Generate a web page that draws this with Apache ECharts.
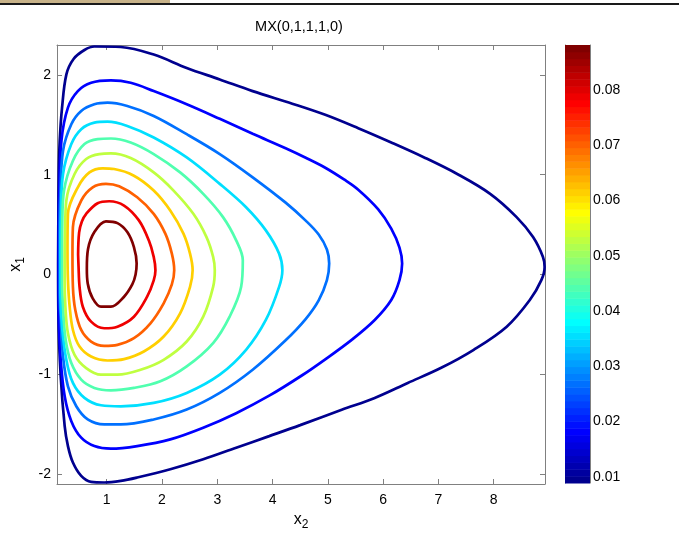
<!DOCTYPE html>
<html><head><meta charset="utf-8">
<script src="https://cdn.jsdelivr.net/npm/echarts@6/dist/echarts.min.js"></script>
<style>html,body{margin:0;padding:0;background:#fff}#c{width:679px;height:543px}</style>
</head><body><div id="c"></div>
<script>
// ---------------- data ----------------
const titleText = 'MX(0,1,1,1,0)';
const xTicks = [1, 2, 3, 4, 5, 6, 7, 8];
const yTicks = [-2, -1, 0, 1, 2];
const cbTicks = [0.01, 0.02, 0.03, 0.04, 0.05, 0.06, 0.07, 0.08];
const levels = [0.0089, 0.0177, 0.0265, 0.0353, 0.0441, 0.0529, 0.0617, 0.0705, 0.0793, 0.0881];

// contour paths: [x2, x1]
const c1 = [[0.12,0.1],[0.125,0.6],[0.132,1.01],[0.149,1.34],[0.191,1.669],[0.27,2.006],[0.4,2.16],[0.597,2.25],[0.776,2.285],[1.254,2.28],[1.85,2.204],[2.447,2.07],[3.045,1.955],[3.64,1.838],[4.357,1.712],[4.954,1.6],[5.551,1.466],[6.148,1.323],[6.744,1.173],[7.342,1.007],[7.938,0.808],[8.416,0.575],[8.714,0.375],[8.893,0.176],[8.923,0.076],[8.864,-0.057],[8.655,-0.256],[8.237,-0.523],[7.64,-0.755],[7.043,-0.938],[6.447,-1.087],[5.849,-1.237],[5.252,-1.355],[4.5,-1.51],[3.94,-1.62],[3.342,-1.736],[2.746,-1.852],[2.15,-1.952],[1.551,-2.035],[1.254,-2.069],[0.955,-2.085],[0.717,-2.079],[0.538,-2.019],[0.388,-1.885],[0.298,-1.72],[0.239,-1.52],[0.167,-1.02],[0.125,-0.4],[0.12,0.1]];
const c2 = [[0.13,0.1],[0.14,0.8],[0.18,1.34],[0.298,1.672],[0.477,1.838],[0.717,1.921],[1.075,1.945],[1.433,1.921],[1.85,1.838],[2.447,1.706],[3.045,1.56],[3.641,1.41],[4.237,1.265],[4.6,1.17],[4.954,1.07],[5.3,0.95],[5.551,0.85],[5.909,0.655],[6.148,0.46],[6.297,0.27],[6.345,0.11],[6.297,-0.057],[6.148,-0.256],[5.849,-0.456],[5.432,-0.655],[4.954,-0.85],[4.536,-1.01],[3.94,-1.215],[3.342,-1.39],[2.746,-1.536],[2.15,-1.653],[1.551,-1.72],[1.075,-1.746],[0.776,-1.72],[0.538,-1.636],[0.359,-1.47],[0.239,-1.221],[0.167,-0.855],[0.135,-0.456],[0.13,0.1]];
const c3 = [[0.147,0.12],[0.147,0.4],[0.16,0.8],[0.209,1.24],[0.359,1.506],[0.538,1.639],[0.776,1.706],[1.014,1.722],[1.372,1.689],[1.85,1.589],[2.447,1.406],[3.045,1.207],[3.641,0.974],[4.237,0.72],[4.6,0.54],[4.835,0.4],[4.984,0.25],[5.025,0.11],[4.984,-0.057],[4.835,-0.26],[4.595,-0.45],[4.237,-0.66],[3.641,-0.955],[3.045,-1.187],[2.447,-1.354],[1.85,-1.453],[1.254,-1.503],[0.955,-1.503],[0.656,-1.453],[0.449,-1.321],[0.298,-1.121],[0.209,-0.822],[0.167,-0.456],[0.147,-0.157],[0.147,0.12]];
const c4 = [[0.162,0.0],[0.162,0.2],[0.17,0.6],[0.209,1.007],[0.359,1.307],[0.538,1.456],[0.776,1.522],[1.014,1.532],[1.372,1.489],[1.85,1.373],[2.447,1.173],[3.045,0.908],[3.521,0.674],[3.879,0.442],[4.119,0.209],[4.178,0.043],[4.119,-0.124],[3.879,-0.456],[3.521,-0.755],[3.045,-1.004],[2.447,-1.187],[1.85,-1.287],[1.254,-1.321],[0.896,-1.311],[0.597,-1.237],[0.388,-1.087],[0.269,-0.855],[0.191,-0.523],[0.162,-0.19],[0.162,0.0]];
const c5 = [[0.191,0.15],[0.195,0.5],[0.227,0.841],[0.388,1.14],[0.597,1.307],[0.835,1.357],[1.075,1.363],[1.433,1.323],[1.85,1.207],[2.328,1.023],[2.746,0.808],[3.104,0.575],[3.342,0.342],[3.462,0.143],[3.432,-0.124],[3.224,-0.423],[2.925,-0.688],[2.447,-0.922],[1.97,-1.071],[1.492,-1.137],[1.075,-1.161],[0.776,-1.137],[0.538,-1.054],[0.359,-0.888],[0.257,-0.655],[0.209,-0.323],[0.191,-0.057],[0.191,0.15]];
const c6 = [[0.239,0.15],[0.245,0.4],[0.269,0.741],[0.418,1.007],[0.628,1.157],[0.866,1.207],[1.075,1.213],[1.433,1.167],[1.85,1.023],[2.209,0.841],[2.567,0.608],[2.805,0.375],[2.925,0.176],[2.955,0.043],[2.925,-0.124],[2.746,-0.423],[2.447,-0.672],[2.03,-0.855],[1.612,-0.955],[1.194,-1.004],[0.896,-1.004],[0.628,-0.938],[0.418,-0.805],[0.298,-0.589],[0.252,-0.323],[0.239,-0.057],[0.239,0.15]];
const c7 = [[0.29,0.25],[0.298,0.608],[0.477,0.874],[0.687,1.023],[0.925,1.064],[1.134,1.057],[1.492,0.99],[1.85,0.841],[2.149,0.641],[2.388,0.409],[2.507,0.209],[2.554,0.043],[2.507,-0.124],[2.328,-0.389],[2.03,-0.622],[1.671,-0.772],[1.313,-0.848],[1.014,-0.862],[0.717,-0.822],[0.508,-0.722],[0.388,-0.556],[0.329,-0.323],[0.298,-0.057],[0.29,0.25]];
const c8 = [[0.38,0.2],[0.388,0.475],[0.538,0.741],[0.746,0.874],[0.986,0.908],[1.224,0.884],[1.551,0.774],[1.85,0.608],[2.06,0.409],[2.178,0.209],[2.221,0.043],[2.178,-0.1],[2.03,-0.289],[1.791,-0.489],[1.492,-0.638],[1.194,-0.705],[0.955,-0.715],[0.717,-0.672],[0.538,-0.556],[0.431,-0.356],[0.388,-0.124],[0.38,0.2]];
const c9 = [[0.482,0.2],[0.5,0.42],[0.55,0.53],[0.628,0.608],[0.835,0.714],[1.045,0.734],[1.313,0.691],[1.582,0.542],[1.761,0.342],[1.85,0.176],[1.881,0.043],[1.85,-0.06],[1.731,-0.223],[1.492,-0.423],[1.194,-0.523],[0.955,-0.539],[0.717,-0.473],[0.567,-0.323],[0.508,-0.124],[0.49,0.076],[0.482,0.2]];
const c10 = [[0.64,0.06],[0.66,0.25],[0.776,0.425],[0.986,0.532],[1.194,0.515],[1.372,0.425],[1.492,0.275],[1.541,0.11],[1.522,0.0],[1.462,-0.1],[1.313,-0.223],[1.075,-0.323],[0.896,-0.323],[0.746,-0.239],[0.656,-0.09],[0.64,0.06]];
const contours = [c1, c2, c3, c4, c5, c6, c7, c8, c9, c10];

// ---------------- styling helpers ----------------
function jet(m) {
  const n = Math.ceil(m / 4);
  const u = [];
  for (let i = 1; i <= n; i++) u.push(i / n);
  for (let i = 1; i < n; i++) u.push(1);
  for (let i = n; i >= 1; i--) u.push(i / n);
  const g0 = Math.ceil(n / 2) - (m % 4 === 1 ? 1 : 0);
  const J = [];
  for (let i = 0; i < m; i++) J.push([0, 0, 0]);
  u.forEach((v, k) => {
    const g = g0 + k + 1, r = g + n, b = g - n;
    if (r >= 1 && r <= m) J[r - 1][0] = v;
    if (g >= 1 && g <= m) J[g - 1][1] = v;
    if (b >= 1 && b <= m) J[b - 1][2] = v;
  });
  return J.map(c => 'rgb(' + c.map(v => Math.round(v * 255)).join(',') + ')');
}
const cmap = jet(64);
const cmin = levels[0], cmax = levels[levels.length - 1];
function levelColor(v) {
  const idx = Math.min(64, Math.floor((v - cmin) / (cmax - cmin) * 64 + 1e-9) + 1);
  return cmap[idx - 1];
}
const bands = cmap.map((c, i) => [i]);

const FONT = 'Liberation Sans, Arial, Helvetica, sans-serif';
const axisGray = '#808080';

const lineSeries = contours.map((pts, i) => ({
  type: 'line',
  xAxisIndex: 0, yAxisIndex: 0,
  data: pts,
  smooth: 0.35,
  showSymbol: false,
  symbol: 'none',
  clip: true,
  lineStyle: { color: levelColor(levels[i]), width: 2.7 },
  z: 3
}));

const chart = echarts.init(document.getElementById('c'), null, { renderer: 'canvas' });
chart.setOption({
  backgroundColor: '#fff',
  animation: false,
  graphic: [
    { type: 'rect', shape: { x: 0, y: 0, width: 170, height: 3 }, style: { fill: '#c8b38a' }, silent: true },
    { type: 'rect', shape: { x: 0, y: 3, width: 679, height: 2 }, style: { fill: '#1a1a1a' }, silent: true }
  ],
  title: {
    text: titleText, left: 299, top: 19, textAlign: 'center', padding: 0,
    textStyle: { fontFamily: FONT, fontSize: 14.5, fontWeight: 'normal', color: '#000' }
  },
  grid: [
    { left: 52, right: 134, top: 45, bottom: 59, show: false },
    { left: 565, width: 25, top: 45, bottom: 60, show: false }
  ],
  xAxis: [
    {
      type: 'value', gridIndex: 0, min: 0.1, max: 8.93, position: 'bottom',
      axisLine: { show: true, onZero: false, lineStyle: { color: axisGray, width: 1 } },
      axisTick: { show: true, inside: true, length: 5, customValues: xTicks, lineStyle: { color: axisGray } },
      axisLabel: { customValues: xTicks, color: '#000', fontSize: 14, fontFamily: FONT, margin: 9 },
      splitLine: { show: false },
      name: '{v|x}{s|2}', nameLocation: 'middle', nameGap: 27,
      nameTextStyle: { rich: {
        v: { fontSize: 16, fontFamily: FONT, color: '#000', verticalAlign: 'top' },
        s: { fontSize: 12, fontFamily: FONT, color: '#000', verticalAlign: 'top', padding: [7, 0, 0, 0] }
      } }
    },
    {
      type: 'value', gridIndex: 0, min: 0.1, max: 8.93, position: 'top',
      axisLine: { show: true, onZero: false, lineStyle: { color: axisGray, width: 1 } },
      axisTick: { show: true, inside: true, length: 5, customValues: xTicks, lineStyle: { color: axisGray } },
      axisLabel: { show: false }, splitLine: { show: false }
    },
    {
      type: 'value', gridIndex: 1, min: 0, max: 1, show: false
    }
  ],
  yAxis: [
    {
      type: 'value', gridIndex: 0, min: -2.1, max: 2.3, position: 'left',
      axisLine: { show: true, onZero: false, lineStyle: { color: axisGray, width: 1 } },
      axisTick: { show: true, inside: true, length: 5, customValues: yTicks, lineStyle: { color: axisGray } },
      axisLabel: { customValues: yTicks, color: '#000', fontSize: 14, fontFamily: FONT, margin: 6 },
      splitLine: { show: false },
      name: '{v|x}{s|1}', nameLocation: 'middle', nameGap: 30, nameRotate: 90,
      nameTextStyle: { rich: {
        v: { fontSize: 16, fontFamily: FONT, color: '#000', verticalAlign: 'top' },
        s: { fontSize: 12, fontFamily: FONT, color: '#000', verticalAlign: 'top', padding: [7, 0, 0, 0] }
      } }
    },
    {
      type: 'value', gridIndex: 0, min: -2.1, max: 2.3, position: 'right',
      axisLine: { show: true, onZero: false, lineStyle: { color: axisGray, width: 1 } },
      axisTick: { show: true, inside: true, length: 5, customValues: yTicks, lineStyle: { color: axisGray } },
      axisLabel: { show: false }, splitLine: { show: false }
    },
    {
      type: 'value', gridIndex: 1, min: cmin, max: cmax, position: 'right',
      axisLine: { show: true, onZero: false, lineStyle: { color: axisGray, width: 1 } },
      axisTick: { show: true, inside: true, length: 4, customValues: cbTicks, lineStyle: { color: '#555' } },
      axisLabel: { customValues: cbTicks, color: '#000', fontSize: 14, fontFamily: FONT, margin: 3,
        formatter: v => v.toFixed(2) },
      splitLine: { show: false }
    },
    {
      type: 'value', gridIndex: 1, min: cmin, max: cmax, position: 'left',
      axisLine: { show: true, onZero: false, lineStyle: { color: axisGray, width: 1 } },
      axisTick: { show: true, inside: true, length: 4, customValues: cbTicks, lineStyle: { color: '#555' } },
      axisLabel: { show: false }, splitLine: { show: false }
    }
  ],
  series: [
    {
      type: 'custom', xAxisIndex: 2, yAxisIndex: 2, data: bands, z: 1,
      renderItem: function (params, api) {
        const i = api.value(0);
        const step = (cmax - cmin) / 64;
        const p0 = api.coord([0, cmin + i * step]);
        const p1 = api.coord([1, cmin + (i + 1) * step]);
        return { type: 'rect', shape: { x: p0[0], y: p1[1], width: p1[0] - p0[0], height: p0[1] - p1[1] + 0.5 },
          style: { fill: cmap[i] } };
      }
    }
  ].concat(lineSeries)
});
</script>
</body></html>
